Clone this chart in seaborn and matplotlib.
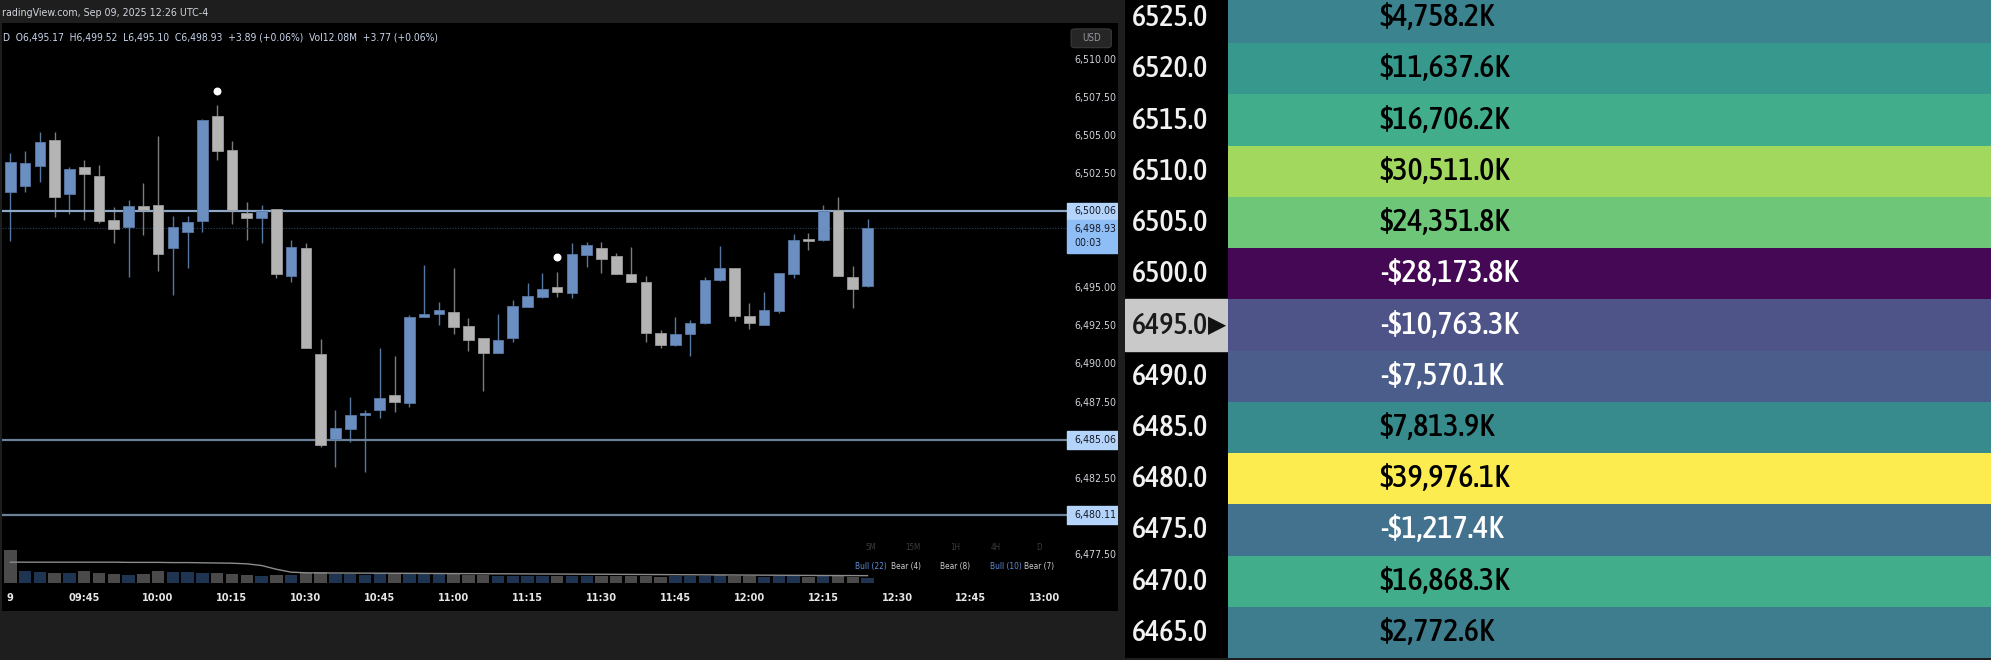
import matplotlib
matplotlib.use("Agg")
import numpy as np
import pandas as pd
import seaborn as sns
from matplotlib import pyplot as plt
from matplotlib import font_manager
from matplotlib.colors import PowerNorm, ListedColormap, rgb_to_hsv, hsv_to_rgb
from matplotlib.font_manager import FontProperties
from matplotlib.patches import Rectangle, FancyBboxPatch
from matplotlib.textpath import TextPath

W, H = 1991, 660

# 3 minute candles from 09:30
opens = [6501.30, 6501.69, 6503.05, 6504.73, 6501.16, 6502.96, 6502.39, 6499.46, 6499.00, 6500.38,
         6500.44, 6497.64, 6498.67, 6499.42, 6506.28, 6504.07, 6499.96, 6499.63, 6500.23, 6495.83,
         6497.67, 6490.69, 6485.11, 6485.75, 6486.70, 6487.01, 6488.00, 6487.45, 6493.14, 6493.31,
         6493.47, 6492.53, 6491.76, 6490.73, 6491.72, 6493.80, 6494.45, 6495.11, 6494.71, 6497.18,
         6497.67, 6497.14, 6495.96, 6495.39, 6492.04, 6491.26, 6492.02, 6492.70, 6495.54, 6496.35,
         6493.20, 6492.59, 6493.53, 6495.92, 6498.17, 6498.17, 6500.14, 6495.72, 6495.17]
highs = [6503.86, 6504.01, 6505.28, 6505.23, 6502.98, 6503.42, 6503.09, 6500.36, 6500.79, 6501.89,
         6504.99, 6499.77, 6499.74, 6506.09, 6507.03, 6504.69, 6500.69, 6500.47, 6500.23, 6498.19,
         6497.95, 6491.65, 6487.01, 6487.85, 6487.01, 6491.06, 6490.58, 6493.25, 6496.53, 6494.08,
         6496.35, 6493.03, 6491.76, 6493.29, 6494.23, 6495.37, 6495.98, 6496.09, 6497.95, 6498.06,
         6498.06, 6497.29, 6497.69, 6495.81, 6492.26, 6493.09, 6492.92, 6495.76, 6497.80, 6496.35,
         6494.01, 6494.78, 6496.03, 6498.56, 6498.61, 6500.47, 6500.97, 6496.48, 6499.52]
lows = [6498.10, 6501.30, 6501.95, 6499.70, 6499.85, 6499.48, 6499.26, 6497.99, 6495.76, 6498.50,
        6496.16, 6494.56, 6496.35, 6498.72, 6503.42, 6499.20, 6498.19, 6497.99, 6495.65, 6495.41,
        6491.06, 6484.61, 6483.30, 6484.89, 6482.97, 6486.51, 6486.90, 6487.23, 6493.09, 6492.59,
        6491.98, 6490.91, 6488.26, 6490.73, 6491.50, 6493.80, 6494.34, 6494.45, 6494.34, 6496.42,
        6495.98, 6495.92, 6495.44, 6491.50, 6491.06, 6491.21, 6490.58, 6492.66, 6495.50, 6492.88,
        6492.31, 6492.59, 6493.40, 6495.70, 6497.51, 6498.12, 6495.81, 6493.69, 6495.10]
closes = [6503.27, 6503.22, 6504.58, 6500.97, 6502.81, 6502.50, 6499.42, 6498.91, 6500.40, 6500.12,
          6497.25, 6499.02, 6499.37, 6506.04, 6503.99, 6500.12, 6499.63, 6500.07, 6495.94, 6497.69,
          6491.06, 6484.72, 6485.86, 6486.69, 6486.80, 6487.78, 6487.56, 6493.14, 6493.31, 6493.57,
          6492.44, 6491.61, 6490.73, 6491.61, 6493.84, 6494.50, 6494.95, 6494.78, 6497.23, 6497.84,
          6496.92, 6495.92, 6495.44, 6492.04, 6491.28, 6492.02, 6492.72, 6495.54, 6496.35, 6493.18,
          6492.75, 6493.57, 6496.03, 6498.17, 6498.12, 6500.07, 6495.81, 6494.95, 6498.93]
# volume in millions and its average line
volumes = [80, 28, 27, 24, 23, 28, 25, 22, 20, 22, 29, 27, 26, 25, 24, 22, 20, 18, 19, 20,
           24, 26, 22, 21, 20, 24, 22, 21, 24, 22, 21, 20, 19, 18, 17, 18, 17, 16, 17, 18,
           17, 16, 17, 16, 15, 17, 16, 18, 20, 17, 16, 15, 16, 17, 15, 16, 17, 14, 12.08]
volume_ma = [50, 50, 50, 50, 50, 50, 50, 50, 49.5, 49.5, 49.5, 49, 49, 48.5, 48, 47.5, 46, 42, 33, 26,
             24.5, 24, 24, 23.8, 23.6, 23.5, 23.3, 23.2, 23, 22.8, 22.6, 22.5, 22.3, 22.1, 22, 21.8, 21.6, 21.5, 21.3, 21.1,
             21, 20.8, 20.6, 20.4, 20.2, 20, 19.8, 19.6, 19.4, 19.2, 19, 18.8, 18.6, 18.4, 18.2, 18, 17.9, 17.8, 17.6]
dot_bars = [14, 37]
dot_prices = [6507.97, 6497.03]

time_labels = ["9", "09:45", "10:00", "10:15", "10:30", "10:45", "11:00", "11:15", "11:30",
               "11:45", "12:00", "12:15", "12:30", "12:45", "13:00"]
time_label_bars = [0, 5, 10, 15, 20, 25, 30, 35, 40, 45, 50, 55, 60, 65, 70]
price_ticks = [6510.0, 6507.5, 6505.0, 6502.5, 6495.0, 6492.5, 6490.0, 6487.5, 6482.5, 6477.5]
level_prices = [6500.06, 6485.06, 6480.11]
last_price = 6498.93

timeframes = ["5M", "15M", "1H", "4H", "D"]
trend_labels = ["Bull (22)", "Bear (4)", "Bear (8)", "Bull (10)", "Bear (7)"]

table_levels = [6525.0, 6520.0, 6515.0, 6510.0, 6505.0, 6500.0, 6495.0, 6490.0, 6485.0, 6480.0,
                6475.0, 6470.0, 6465.0]
table_values = [4758.2, 11637.6, 16706.2, 30511.0, 24351.8, -28173.8, -10763.3, -7570.1, 7813.9,
                39976.1, -1217.4, 16868.3, 2772.6]  # net $K per level
current_level = 6495.0


def condensed_font(target_weight=400):
    # the screenshot text is narrow, so look for the narrowest sans face we have
    best = None
    for f in font_manager.fontManager.ttflist:
        st = f.stretch
        if isinstance(st, str):
            st = font_manager.stretch_dict.get(st, 500)
        w = f.weight if isinstance(f.weight, int) else font_manager.weight_dict.get(f.weight, 400)
        if st >= 500 or f.style != "normal" or "Mono" in f.name or "Serif" in f.name:
            continue
        key = (st, abs(w - target_weight))
        if best is None or key < best[0]:
            best = (key, f.fname)
    if best is None:
        return FontProperties(family="DejaVu Sans", weight=target_weight)
    return FontProperties(fname=best[1])


REG = condensed_font(400)
MED = condensed_font(500)
BOLD = condensed_font(700)


def fit(text, prop, target_px, max_pt):
    fp = prop.copy()
    fp.set_size(10)
    w = TextPath((0, 0), text, prop=fp).get_extents().width * 100 / 72
    fp.set_size(min(10 * target_px / w, max_pt))
    return fp


UP, DOWN = "#6a8fc0", "#b4b4b4"
TXT = "#d1d4dc"

# the table colours look like a washed out viridis
hsv = rgb_to_hsv(plt.get_cmap("viridis")(np.linspace(0, 1, 256))[:, :3])
hsv[:, 1] *= 0.8
hsv[:40, 1] = np.minimum(hsv[:40, 1] / 0.8 * 0.92, 1)
table_cmap = ListedColormap(hsv_to_rgb(hsv))

fig = plt.figure(figsize=(W / 100, H / 100), dpi=100, facecolor="#1e1e1e")


def px_axes(x0, y0, x1, y1):
    return fig.add_axes([x0 / W, 1 - y1 / H, (x1 - x0) / W, (y1 - y0) / H])


def clean(ax, color):
    ax.set_facecolor(color)
    ax.set_xticks([])
    ax.set_yticks([])
    for s in ax.spines.values():
        s.set_visible(False)


# ---- candle chart ----
ax = px_axes(2, 23, 1118, 611)
clean(ax, "black")
ax.set_xlim(-0.5616, 74.946)
ax.set_ylim(6473.825, 6512.408)

vax = ax.twinx()
vax.set_ylim(-67.2, 1344)
vax.set_yticks([])
for s in vax.spines.values():
    s.set_visible(False)
bars = list(range(len(volumes)))
vcolors = ["#1e3450" if c >= o else "#4a4a4a" for o, c in zip(opens, closes)]
vcolors[0] = "#4a4a4a"
vax.bar(bars, volumes, width=0.84, color=vcolors)
vax.plot(bars, volume_ma, color="#8c8c8c", lw=1)

for i, (o, h, l, c) in enumerate(zip(opens, highs, lows, closes)):
    up = c >= o
    ax.vlines(i, l, h, color="#56779f" if up else "#7c7c7c", lw=1, zorder=2)
    ax.bar(i, max(abs(c - o), 0.12), bottom=min(o, c), width=0.72,
           color=UP if up else DOWN, edgecolor="#5878a6" if up else "#9a9a9a", lw=0.6, zorder=3)
ax.scatter(dot_bars, dot_prices, s=22, color="white", marker="o", zorder=4)

edge = (1067 - 2) / 1116
ax.axhline(level_prices[0], xmin=0, xmax=edge, color="#8ea7c7", lw=1.6)
for lv in level_prices[1:]:
    ax.axhline(lv, xmin=0, xmax=edge, color="#6c8098", lw=1.6)
ax.axhline(last_price, xmin=0, xmax=edge, color="#2c4560", lw=0.8, ls=(0, (1, 1.5)))

ytr = ax.get_yaxis_transform()
lx = (1074 - 2) / 1116
fp_price = fit("6,510.00", REG, 41, 9)
for p in price_ticks:
    ax.text(lx, p, f"{p:,.2f}", transform=ytr, ha="left", va="center", color=TXT,
            fontproperties=fp_price)

box_w = 1 - edge
ax.add_patch(Rectangle((edge, 6499.48), box_w, 1.12, transform=ytr, color="#b4d4fb", zorder=5))
ax.add_patch(Rectangle((edge, 6497.31), box_w, 2.17, transform=ytr, color="#8fbdf6", zorder=5))
tags = [(level_prices[0], f"{level_prices[0]:,.2f}"), (6498.88, f"{last_price:,.2f}"), (6497.96, "00:03")]
for lv in level_prices[1:]:
    ax.add_patch(Rectangle((edge, lv - 0.58), box_w, 1.16, transform=ytr, color="#b4d4fb", zorder=5))
    tags.append((lv, f"{lv:,.2f}"))
for y, s in tags:
    ax.text(lx, y, s, transform=ytr, ha="left", va="center", color="#131722",
            fontproperties=fp_price, zorder=6)

ax.add_patch(FancyBboxPatch((0.958, 0.958), 0.036, 0.032, boxstyle="round,pad=0,rounding_size=0.004",
                            transform=ax.transAxes, facecolor="#262626", edgecolor="#3a3a3a", lw=0.8))
ax.text(0.976, 0.974, "USD", transform=ax.transAxes, ha="center", va="center", color="#9598a1",
        fontproperties=fit("USD", REG, 18, 7))

xtr = ax.get_xaxis_transform()
fp_time = fit("09:45", BOLD, 30, 9.5)
for b, lab in zip(time_label_bars, time_labels):
    ax.text(b, (611 - 598) / 588, lab, transform=xtr, ha="center", va="center", color="#e6e6e6",
            fontproperties=fp_time)

fp_tf = fit("15M", REG, 14, 6)
for x, tf in zip([871, 913, 955, 996, 1039], timeframes):
    fig.text(x / W, 1 - 548 / H, tf, ha="center", va="center", color="#3c3c3c", fontproperties=fp_tf)
fp_tr = fit("Bull (22)", REG, 30, 7)
for x, lab in zip([871, 906, 955, 1006, 1039], trend_labels):
    fig.text(x / W, 1 - 566 / H, lab, ha="center", va="center",
             color="#5e8fd8" if lab.startswith("Bull") else "#cfcfcf", fontproperties=fp_tr)

head = "radingView.com, Sep 09, 2025 12:26 UTC-4"
fig.text(2 / W, 1 - 13 / H, head, ha="left", va="center", color=TXT, fontproperties=fit(head, REG, 207, 9.5))
legend = "D  O6,495.17  H6,499.52  L6,495.10  C6,498.93  +3.89 (+0.06%)  Vol12.08M  +3.77 (+0.06%)"
fig.text(3 / W, 1 - 38 / H, legend, ha="left", va="center", color="#c8d6ec",
         fontproperties=fit(legend, REG, 437, 9.5))

# ---- level table ----
ax_lbl = px_axes(1125, -8, 1228, 658)
clean(ax_lbl, "black")
ax_lbl.set_xlim(0, 1)
ax_lbl.set_ylim(len(table_levels), 0)

ax_hm = px_axes(1228, -8, 1991, 658)
df = pd.DataFrame({"net": table_values}, index=[f"{v:.1f}" for v in table_levels])
sns.heatmap(df, ax=ax_hm, cmap=table_cmap, cbar=False, xticklabels=False, yticklabels=False,
            norm=PowerNorm(1.15, vmin=min(table_values), vmax=max(table_values)))
ax_hm.set_ylim(len(table_levels), 0)

fp_lvl = fit("6525.0", MED, 74, 30)
fp_val = fit("-$28,173.8K", MED, 138, 30)
for r, (lvl, v) in enumerate(zip(table_levels, table_values)):
    if lvl == current_level:
        ax_lbl.add_patch(Rectangle((0, r), 1, 1, color="#c9c9c9"))
        ax_lbl.text(0.89, r + 0.5, "\u25B6", ha="center", va="center", color="#111111",
                    fontsize=17, family="DejaVu Sans")
        col = "#1a1a1a"
    else:
        col = "#f2f2f2"
    ax_lbl.text(0.068, r + 0.5, f"{lvl:.1f}", ha="left", va="center", color=col, fontproperties=fp_lvl)
    txt = ("-" if v < 0 else "") + f"${abs(v):,.1f}K"
    ax_hm.text(0.199, r + 0.5, txt, ha="left", va="center",
               color="white" if v < 0 else "black", fontproperties=fp_val)

fig.savefig("out.png", dpi=100, facecolor=fig.get_facecolor())
